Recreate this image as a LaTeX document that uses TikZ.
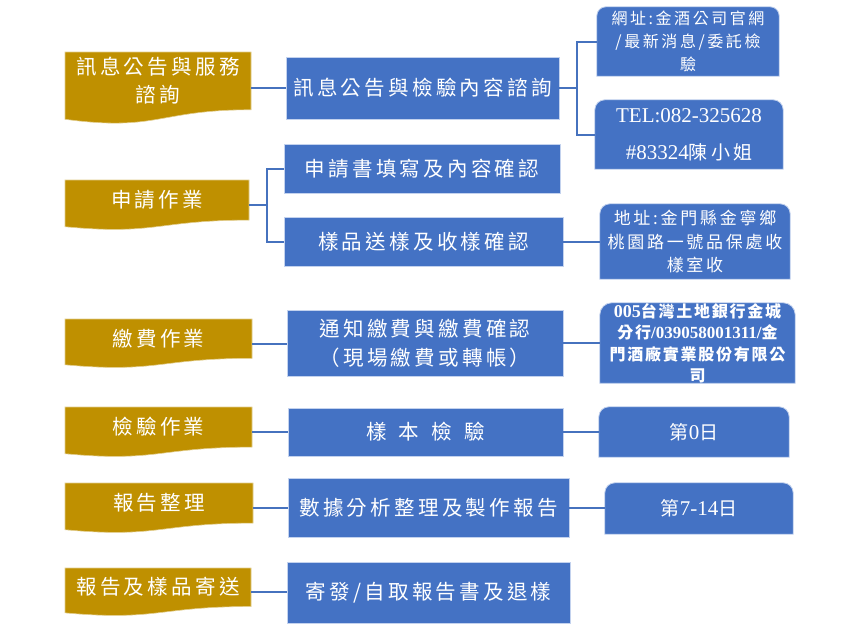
\documentclass[tikz,border=0pt]{standalone}
\usepackage{fontspec}
\setmainfont{Noto Sans CJK TC}
\newfontfamily\cjk{Noto Sans CJK TC}[LetterSpace=16]
\newfontfamily\cjkb{Noto Sans CJK TC}[LetterSpace=11]
\newfontfamily\lat{Liberation Serif}
\usetikzlibrary{backgrounds,calc}
\pgfdeclarelayer{bgzero}
\pgfsetlayers{bgzero,background,main}
\definecolor{goldc}{RGB}{191,144,0}
\definecolor{bluec}{RGB}{68,114,196}
\definecolor{edgec}{RGB}{195,210,238}
\definecolor{linec}{RGB}{70,114,190}
\newcommand\goldshape[6]{%
  \pgfmathsetmacro\GSx{(#2+#4)/2}%
  \pgfmathsetmacro\GSy{#3+#5/2}%
  \pgfmathsetmacro\GSw{#4-#2}%
  \pgfmathsetmacro\GSa{#3+0.802*#5}%
  \pgfmathsetmacro\GSb{#3+1.1075*#5}%
  \pgfmathsetmacro\GSc{#3+0.934*#5}%
  \pgfmathsetmacro\GSt{#3+0.4*#5}%
  \node[goldframe, minimum width=\GSw pt, minimum height=#5 pt] (#1) at (\GSx,\GSy) {};%
  \filldraw[goldfill] (#2,#3) -- (#4,#3) -- (#4,\GSa) .. controls (\GSx,\GSa) and (\GSx,\GSb) .. (#2,\GSc) -- cycle;%
  \node[goldtext] (#1t) at (\GSx,\GSt) {#6};%
}
\newcommand\topbox[2]{%
  \begin{pgfonlayer}{background}
  \filldraw[fill=bluec, draw=edgec, line width=0.8pt]
    (#1.south west) -- ([yshift=-#2]#1.north west)
    arc[start angle=180, end angle=90, radius=#2]
    -- ([xshift=-#2]#1.north east)
    arc[start angle=90, end angle=0, radius=#2]
    -- (#1.south east) -- cycle;
  \end{pgfonlayer}}
\begin{document}
\begin{tikzpicture}[x=1pt,y=-1pt,
  goldframe/.style={inner sep=0pt, draw=none},
  goldfill/.style={fill=goldc, draw=goldc!45!white, line width=0.6pt},
  goldtext/.style={text=white, align=center, inner sep=0pt, font=\cjk\fontsize{20.5}{28}\selectfont},
  bluebox/.style={draw=edgec, line width=0.8pt, fill=bluec, text=white, inner sep=0pt, align=center, font=\cjk\fontsize{20.5}{29}\selectfont},
  rbox/.style={inner sep=0pt, text=white, align=center, font=\cjk\fontsize{17}{23.5}\selectfont},
  conn/.style={draw=linec, line width=2pt}]
\useasboundingbox (0,0) rectangle (861,625);
\begin{pgfonlayer}{bgzero}
\fill[white] (0,0) rectangle (861,625);
\end{pgfonlayer}

% left gold shapes
\goldshape{g1}{65}{52}{251}{72}{訊息公告與服務\\諮詢}
\goldshape{g2}{65}{180}{249}{50}{申請作業}
\goldshape{g3}{65}{319}{252}{49}{繳費作業}
\goldshape{g4}{65}{407}{252}{50}{檢驗作業}
\goldshape{g5}{65}{483}{253}{50}{報告整理}
\goldshape{g6}{65}{568}{251}{48}{報告及樣品寄送}

% middle blue boxes
\node[bluebox, minimum width=273pt, minimum height=62pt] (b1) at (422.5,88) {訊息公告與檢驗內容諮詢};
\node[bluebox, minimum width=276pt, minimum height=49pt] (b2) at (422,168.5) {申請書填寫及內容確認};
\node[bluebox, minimum width=279pt, minimum height=49pt] (b3) at (423.5,241.5) {樣品送樣及收樣確認};
\node[bluebox, minimum width=276pt, minimum height=66pt] (b4) at (425,343) {通知繳費與繳費確認\\（現場繳費或轉帳）};
\node[bluebox, minimum width=275pt, minimum height=48pt] (b5) at (425.5,432) {樣\hspace{12pt}本\hspace{12pt}檢\hspace{12pt}驗};
\node[bluebox, minimum width=281pt, minimum height=59pt] (b6) at (428.5,507.5) {數據分析整理及製作報告};
\node[bluebox, minimum width=283pt, minimum height=61pt] (b7) at (428.5,592.5) {寄發/自取報告書及退樣};

% right boxes (rounded top)
\node[rbox, font=\cjk\fontsize{16}{23}\selectfont, minimum width=182pt, minimum height=69pt] (r1) at (688,41.5) {網址:金酒公司官網\\/最新消息/委託檢\\驗};
\topbox{r1}{9pt}
\node[rbox, font=\cjk\fontsize{19}{37}\selectfont, minimum width=188pt, minimum height=69pt] (r2) at (689,134.5) {{\lat\fontsize{21}{37}\selectfont TEL:082-325628}\\{\lat\fontsize{21}{37}\selectfont\#83324}陳小姐};
\topbox{r2}{10pt}
\node[rbox, minimum width=190pt, minimum height=75pt] (r3) at (695,241.5) {地址:金門縣金寧鄉\\桃園路一號品保處收\\樣室收};
\topbox{r3}{10pt}
\node[rbox, font=\cjkb\bfseries\fontsize{16}{21.5}\selectfont, minimum width=195pt, minimum height=80pt] (r4) at (697.5,343) {{\lat\bfseries\fontsize{18}{21.5}\selectfont 005}台灣土地銀行金城\\分行{\lat\bfseries\fontsize{17}{21.5}\selectfont /039058001311/}金\\門酒廠實業股份有限公\\司};
\topbox{r4}{12pt}
\node[rbox, font=\cjk\fontsize{19}{24}\selectfont, minimum width=190pt, minimum height=50pt] (r5) at (694,432) {第{\lat\fontsize{21}{24}\selectfont 0}日};
\topbox{r5}{10pt}
\node[rbox, font=\cjk\fontsize{19}{24}\selectfont, minimum width=188pt, minimum height=51pt] (r6) at (699,508.5) {第{\lat\fontsize{21}{24}\selectfont 7-14}日};
\topbox{r6}{10pt}

% connectors
\draw[conn] (g1.east) -- (b1.west);
\coordinate (j2) at ($(g2.east)+(18,0)$);
\draw[conn, line width=2.8pt] (g2.east) -- (j2);
\draw[conn] (j2) |- (b2.west);
\draw[conn] (j2) |- (b3.west);
\draw[conn] (g3.east) -- (g3.east -| b4.west);
\draw[conn] (g4.east) -- (b5.west);
\draw[conn] (g5.east) -- (g5.east -| b6.west);
\draw[conn] (g6.east) -- (g6.east -| b7.west);
\coordinate (j1) at ($(b1.east)+(18,0)$);
\draw[conn] (b1.east) -- (j1);
\draw[conn] (j1) |- (r1.west);
\draw[conn] (j1) |- (r2.west);
\draw[conn] (b3.east) -- (r3.west);
\draw[conn] (b4.east) -- (r4.west);
\draw[conn] (b5.east) -- (r5.west);
\draw[conn] (b6.east) -- (b6.east -| r6.west);
\end{tikzpicture}
\end{document}
